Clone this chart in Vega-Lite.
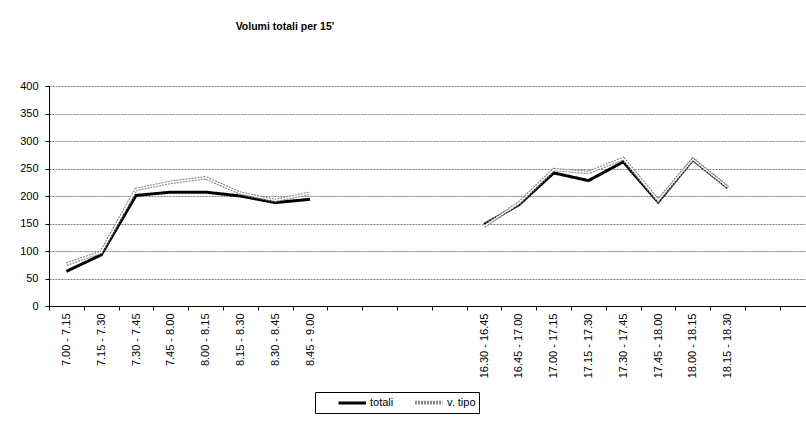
{
  "$schema": "https://vega.github.io/schema/vega-lite/v6.json",
  "width": 757,
  "height": 220,
  "autosize": {"type": "none"},
  "padding": {"left": 49, "top": 86, "right": 0, "bottom": 119},
  "background": "white",
  "title": {
    "text": "Volumi totali per 15'",
    "anchor": "start",
    "dx": 216,
    "offset": 40,
    "baseline": "alphabetic",
    "font": "Liberation Sans",
    "fontSize": 10.5,
    "fontWeight": "bold",
    "color": "black"
  },
  "config": {
    "view": {"stroke": null},
    "axis": {
      "labelFont": "Liberation Sans",
      "labelFontSize": 11,
      "labelColor": "black",
      "domainColor": "black",
      "tickColor": "black",
      "domainWidth": 1,
      "tickWidth": 1
    },
    "legend": {
      "labelFont": "Liberation Sans",
      "labelFontSize": 11,
      "labelColor": "black"
    }
  },
  "data": {
    "values": [
      {"fascia": "7.00 - 7.15", "periodo": "mattina", "serie": "totali", "valore": 63},
      {"fascia": "7.15 - 7.30", "periodo": "mattina", "serie": "totali", "valore": 93},
      {"fascia": "7.30 - 7.45", "periodo": "mattina", "serie": "totali", "valore": 201},
      {"fascia": "7.45 - 8.00", "periodo": "mattina", "serie": "totali", "valore": 207},
      {"fascia": "8.00 - 8.15", "periodo": "mattina", "serie": "totali", "valore": 207},
      {"fascia": "8.15 - 8.30", "periodo": "mattina", "serie": "totali", "valore": 200},
      {"fascia": "8.30 - 8.45", "periodo": "mattina", "serie": "totali", "valore": 188},
      {"fascia": "8.45 - 9.00", "periodo": "mattina", "serie": "totali", "valore": 194},
      {"fascia": "16.30 - 16.45", "periodo": "sera", "serie": "totali", "valore": 148},
      {"fascia": "16.45 - 17.00", "periodo": "sera", "serie": "totali", "valore": 184},
      {"fascia": "17.00 - 17.15", "periodo": "sera", "serie": "totali", "valore": 242},
      {"fascia": "17.15 - 17.30", "periodo": "sera", "serie": "totali", "valore": 228},
      {"fascia": "17.30 - 17.45", "periodo": "sera", "serie": "totali", "valore": 262},
      {"fascia": "17.45 - 18.00", "periodo": "sera", "serie": "totali", "valore": 189},
      {"fascia": "18.00 - 18.15", "periodo": "sera", "serie": "totali", "valore": 266},
      {"fascia": "18.15 - 18.30", "periodo": "sera", "serie": "totali", "valore": 215},
      {"fascia": "7.00 - 7.15", "periodo": "mattina", "serie": "v. tipo", "valore": 76},
      {"fascia": "7.15 - 7.30", "periodo": "mattina", "serie": "v. tipo", "valore": 98},
      {"fascia": "7.30 - 7.45", "periodo": "mattina", "serie": "v. tipo", "valore": 212},
      {"fascia": "7.45 - 8.00", "periodo": "mattina", "serie": "v. tipo", "valore": 225},
      {"fascia": "8.00 - 8.15", "periodo": "mattina", "serie": "v. tipo", "valore": 233},
      {"fascia": "8.15 - 8.30", "periodo": "mattina", "serie": "v. tipo", "valore": 205},
      {"fascia": "8.30 - 8.45", "periodo": "mattina", "serie": "v. tipo", "valore": 192},
      {"fascia": "8.45 - 9.00", "periodo": "mattina", "serie": "v. tipo", "valore": 205},
      {"fascia": "16.30 - 16.45", "periodo": "sera", "serie": "v. tipo", "valore": 145},
      {"fascia": "16.45 - 17.00", "periodo": "sera", "serie": "v. tipo", "valore": 187},
      {"fascia": "17.00 - 17.15", "periodo": "sera", "serie": "v. tipo", "valore": 248},
      {"fascia": "17.15 - 17.30", "periodo": "sera", "serie": "v. tipo", "valore": 243},
      {"fascia": "17.30 - 17.45", "periodo": "sera", "serie": "v. tipo", "valore": 268},
      {"fascia": "17.45 - 18.00", "periodo": "sera", "serie": "v. tipo", "valore": 192},
      {"fascia": "18.00 - 18.15", "periodo": "sera", "serie": "v. tipo", "valore": 267},
      {"fascia": "18.15 - 18.30", "periodo": "sera", "serie": "v. tipo", "valore": 216}
    ]
  },
  "encoding": {
    "x": {
      "field": "fascia",
      "type": "nominal",
      "title": null,
      "scale": {
        "type": "band",
        "domain": ["7.00 - 7.15", "7.15 - 7.30", "7.30 - 7.45", "7.45 - 8.00", "8.00 - 8.15", "8.15 - 8.30", "8.30 - 8.45", "8.45 - 9.00", " ", "  ", "   ", "    ", "16.30 - 16.45", "16.45 - 17.00", "17.00 - 17.15", "17.15 - 17.30", "17.30 - 17.45", "17.45 - 18.00", "18.00 - 18.15", "18.15 - 18.30", "     "],
        "paddingInner": 0,
        "paddingOuter": 0.375,
        "align": 0
      },
      "axis": {
        "tickBand": "extent",
        "tickSize": 4,
        "labelPadding": 3,
        "labelAngle": 270,
        "labelAlign": "right",
        "labelBaseline": "middle",
        "grid": false
      }
    },
    "y": {
      "field": "valore",
      "type": "quantitative",
      "title": null,
      "scale": {"domain": [0, 400], "nice": false},
      "axis": {
        "values": [0, 50, 100, 150, 200, 250, 300, 350, 400],
        "tickSize": 4,
        "labelPadding": 7,
        "grid": true,
        "gridColor": "#7f7f7f",
        "gridDash": [2, 1],
        "gridWidth": 1
      }
    }
  },
  "layer": [
    {
      "mark": {"type": "line"},
      "encoding": {
        "detail": {"field": "periodo"},
        "color": {
          "field": "serie",
          "type": "nominal",
          "title": null,
          "scale": {"domain": ["totali", "v. tipo"], "range": ["black", "#8a8a8a"]},
          "legend": {
            "orient": "none",
            "legendX": 266,
            "legendY": 306,
            "direction": "horizontal",
            "strokeColor": "black",
            "padding": 3,
            "symbolType": "M-1,0H4",
            "symbolSize": 121,
            "symbolOffset": 19,
            "labelOffset": 19,
            "columnPadding": 0,
            "labelExpr": "datum.label == 'v. tipo' ? datum.label + '\u00a0\u00a0\u00a0\u00a0\u00a0' : datum.label"
          }
        },
        "strokeWidth": {
          "field": "serie",
          "type": "nominal",
          "title": null,
          "scale": {"domain": ["totali", "v. tipo"], "range": [3, 3.6]}
        },
        "strokeDash": {
          "field": "serie",
          "type": "nominal",
          "title": null,
          "scale": {"domain": ["totali", "v. tipo"], "range": [[1, 0], [2, 1]]}
        }
      }
    },
    {
      "transform": [{"filter": "datum.serie == 'v. tipo'"}],
      "mark": {"type": "line", "color": "white", "strokeWidth": 1.3},
      "encoding": {"detail": {"field": "periodo"}}
    }
  ]
}
